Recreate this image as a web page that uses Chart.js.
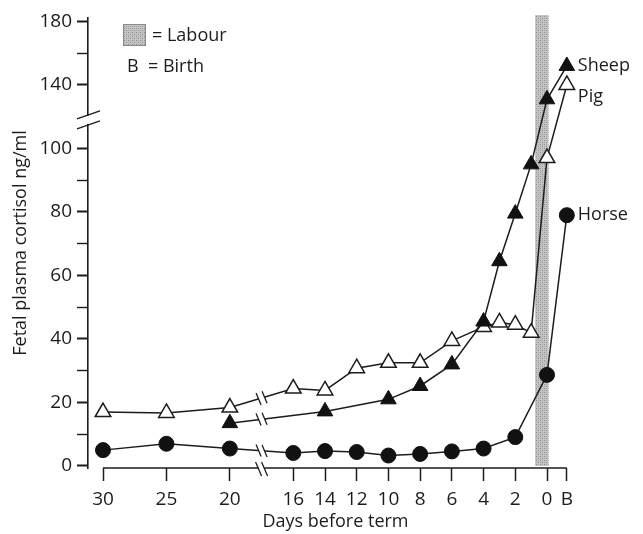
<!DOCTYPE html>
<html><head><meta charset="utf-8">
<script src="https://cdn.jsdelivr.net/npm/chart.js@4.4.0/dist/chart.umd.min.js"></script>
<style>html,body{margin:0;padding:0;background:#fff}#wrap{width:643px;height:534px;position:relative}</style>
</head><body><div id="wrap"><canvas id="c" width="643" height="534"></canvas></div>
<script>
// ---- data (days before term; 'B' = birth) ----
const tickDays = [30, 25, 20, 16, 14, 12, 10, 8, 6, 4, 2, 0, 'B'];
const tickLabels = ['30', '25', '20', '16', '14', '12', '10', '8', '6', '4', '2', '0', 'B'];
const yTickValues = [0, 10, 20, 30, 40, 50, 60, 70, 80, 90, 100, 140, 160, 180];
const yTickLabels = ['0', '', '20', '', '40', '', '60', '', '80', '', '100', '140', '', '180'];

const horseDays = [30, 25, 20, 16, 14, 12, 10, 8, 6, 4, 2, 0, 'B'];
const horseVals = [5, 7, 5.5, 4.1, 4.7, 4.4, 3.3, 3.8, 4.6, 5.5, 9.1, 28.7, 79];

const sheepDays = [20, 14, 10, 8, 6, 4, 3, 2, 1, 0, 'B'];
const sheepVals = [13.5, 17.2, 21, 25.2, 32, 45.5, 64.5, 79.5, 95, 131, 152];

const pigDays = [30, 25, 20, 16, 14, 12, 10, 8, 6, 4, 3, 2, 1, 0, 'B'];
const pigVals = [17, 16.7, 18.4, 24.4, 23.8, 30.8, 32.5, 32.5, 39.4, 43.8, 45.2, 44.5, 42, 97, 140];

const seriesNames = ['Sheep', 'Pig', 'Horse'];
const labourDays = [0.75, -0.1];   // shaded labour period
const legendTexts = ['= Labour', 'B  = Birth'];
const xTitle = 'Days before term';
const yTitle = 'Fetal plasma cortisol ng/ml';

// ---- broken-axis transforms ----
function toPos(d) {            // x: compressed before day 20, break between 20 and 16
  if (d === 'B') return 29.25;
  return d >= 20 ? (30 - d) * 0.8 : 28 - d;
}
function toPlot(v) {           // y: break above 100, half scale beyond
  return v <= 100 ? v : 50 + v / 2;
}
const X_BREAK = 10, Y_BREAK = 109;

const INK = '#1c1c1c';
const FONT = "'Open Sans', 'DejaVu Sans', sans-serif";

function makePattern() {
  const p = document.createElement('canvas');
  p.width = 4; p.height = 4;
  const g = p.getContext('2d');
  g.fillStyle = '#c4c4c4'; g.fillRect(0, 0, 4, 4);
  g.fillStyle = '#8e8e8e';
  g.fillRect(0, 0, 1, 1); g.fillRect(2, 2, 1, 1);
  g.fillStyle = '#aaaaaa';
  g.fillRect(2, 0, 1, 1); g.fillRect(0, 2, 1, 1);
  return g.createPattern(p, 'repeat');
}

const pts = (days, vals) => days.map((d, i) => ({x: toPos(d), y: toPlot(vals[i])}));

const decor = {
  id: 'decor',
  beforeDatasetsDraw(chart) {
    const ctx = chart.ctx, xs = chart.scales.x, ys = chart.scales.y;
    const x1 = xs.getPixelForValue(toPos(labourDays[0]));
    const x2 = xs.getPixelForValue(toPos(labourDays[1]));
    ctx.save();
    ctx.fillStyle = makePattern();
    const top = chart.chartArea.top - 3, bot = ys.getPixelForValue(0);
    ctx.fillRect(x1, top, x2 - x1, bot - top);
    ctx.restore();
  },
  afterDatasetsDraw(chart) {
    const ctx = chart.ctx, xs = chart.scales.x;
    const bx = xs.getPixelForValue(X_BREAK);
    ctx.save();
    // break marks on data lines
    chart.data.datasets.forEach((ds, di) => {
      const meta = chart.getDatasetMeta(di);
      const el = meta.data;
      for (let i = 0; i < el.length - 1; i++) {
        const a = el[i], b = el[i + 1];
        if (a.x < bx && b.x > bx) {
          const yAt = x => a.y + (b.y - a.y) * (x - a.x) / (b.x - a.x);
          ctx.strokeStyle = '#fff'; ctx.lineWidth = 5;
          ctx.beginPath(); ctx.moveTo(bx - 3, yAt(bx - 3)); ctx.lineTo(bx + 3, yAt(bx + 3)); ctx.stroke();
          ctx.strokeStyle = INK; ctx.lineWidth = 1.3;
          [-3, 3].forEach(o => {
            const cx = bx + o, cy = yAt(cx);
            ctx.beginPath(); ctx.moveTo(cx - 2.5, cy - 6); ctx.lineTo(cx + 2.5, cy + 6); ctx.stroke();
          });
        }
      }
    });
    // series labels at the right
    ctx.fillStyle = INK;
    ctx.font = '18px ' + FONT;
    ctx.textBaseline = 'middle';
    ctx.textAlign = 'left';
    const yOff = [0, 12, 0];
    chart.data.datasets.forEach((ds, di) => {
      const el = chart.getDatasetMeta(di).data;
      const last = el[el.length - 1];
      ctx.fillText(seriesNames[di], last.x + 11, last.y + yOff[di]);
    });
    ctx.restore();
  },
  afterDraw(chart) {
    const ctx = chart.ctx, xs = chart.scales.x, ys = chart.scales.y;
    const ca = chart.chartArea;
    ctx.save();
    // x axis line with break
    const ay = ca.bottom;
    const xa = xs.getPixelForValue(toPos(30)), xb = xs.getPixelForValue(toPos('B'));
    const bx = xs.getPixelForValue(X_BREAK);
    ctx.strokeStyle = INK; ctx.lineWidth = 1.6;
    ctx.beginPath();
    ctx.moveTo(xa, ay); ctx.lineTo(bx - 3, ay);
    ctx.moveTo(bx + 3, ay); ctx.lineTo(xb, ay);
    ctx.stroke();
    ctx.lineWidth = 1.3;
    [-3, 3].forEach(o => {
      ctx.beginPath(); ctx.moveTo(bx + o - 3, ay - 6); ctx.lineTo(bx + o + 3, ay + 8); ctx.stroke();
    });
    // y axis break
    const by = ys.getPixelForValue(Y_BREAK);
    const axX = ca.left;
    ctx.fillStyle = '#fff';
    ctx.fillRect(axX - 3, by - 4, 6, 8);
    ctx.lineWidth = 1.3;
    [-5, 5].forEach(o => {
      ctx.beginPath(); ctx.moveTo(axX - 11, by + o + 4); ctx.lineTo(axX + 12, by + o - 4); ctx.stroke();
    });
    // legend
    ctx.fillStyle = makePattern();
    ctx.fillRect(123, 24, 23, 22);
    ctx.strokeStyle = '#8a8a8a'; ctx.lineWidth = 1;
    ctx.strokeRect(123.5, 24.5, 22, 21);
    ctx.fillStyle = INK;
    ctx.font = '18px ' + FONT;
    ctx.textBaseline = 'middle'; ctx.textAlign = 'left';
    ctx.fillText(legendTexts[0], 152, 36);
    ctx.fillText(legendTexts[1], 127, 67);
    ctx.restore();
  }
};

new Chart(document.getElementById('c'), {
  type: 'line',
  data: {
    datasets: [
      {label: seriesNames[0], data: pts(sheepDays, sheepVals), borderColor: INK, borderWidth: 1.5,
       pointStyle: 'triangle', pointRadius: 9, pointBackgroundColor: '#111', pointBorderColor: '#111', pointBorderWidth: 1},
      {label: seriesNames[1], data: pts(pigDays, pigVals), borderColor: INK, borderWidth: 1.5,
       pointStyle: 'triangle', pointRadius: 9, pointBackgroundColor: '#fff', pointBorderColor: INK, pointBorderWidth: 1.5},
      {label: seriesNames[2], data: pts(horseDays, horseVals), borderColor: INK, borderWidth: 1.5,
       pointStyle: 'circle', pointRadius: 7.5, pointBackgroundColor: '#111', pointBorderColor: '#111', pointBorderWidth: 1}
    ]
  },
  options: {
    responsive: false, animation: false, devicePixelRatio: 1,
    layout: {padding: {top: 18, right: 60, left: 0, bottom: 0}},
    plugins: {legend: {display: false}, tooltip: {enabled: false}},
    elements: {line: {tension: 0}},
    scales: {
      x: {
        type: 'linear', min: -0.946, max: 30.27,
        afterBuildTicks: s => { s.ticks = tickDays.map(d => ({value: toPos(d)})); },
        afterFit: s => { s.height = 66; },
        border: {display: false},
        grid: {drawOnChartArea: false, drawTicks: true, tickLength: 13, tickColor: INK, tickWidth: 1.5},
        ticks: {
          autoSkip: false, maxRotation: 0, padding: 7, color: INK, font: {family: FONT, size: 19},
          callback: (v) => { const i = tickDays.findIndex(d => Math.abs(toPos(d) - v) < 1e-6); return i >= 0 ? tickLabels[i] : ''; }
        },
        title: {display: true, text: xTitle, color: INK, font: {family: FONT, size: 18}, padding: {top: 0, bottom: 1}}
      },
      y: {
        type: 'linear', min: -0.63, max: 141.1,
        afterBuildTicks: s => { s.ticks = yTickValues.map(v => ({value: toPlot(v)})); },
        afterFit: s => { s.width = 88; },
        border: {display: true, color: INK, width: 1.6},
        grid: {drawOnChartArea: false, drawTicks: true, tickLength: 11, tickColor: INK,
               tickWidth: c => (c.tick && yTickLabels[c.index] !== '' ? 2 : 1.4)},
        ticks: {
          autoSkip: false, padding: 5, color: INK, font: {family: FONT, size: 19},
          callback: (v, i) => yTickLabels[i]
        },
        title: {display: true, text: yTitle, color: INK, font: {family: FONT, size: 18}, padding: {top: 10, bottom: 0}}
      }
    }
  },
  plugins: [decor]
});
</script>
</body></html>
